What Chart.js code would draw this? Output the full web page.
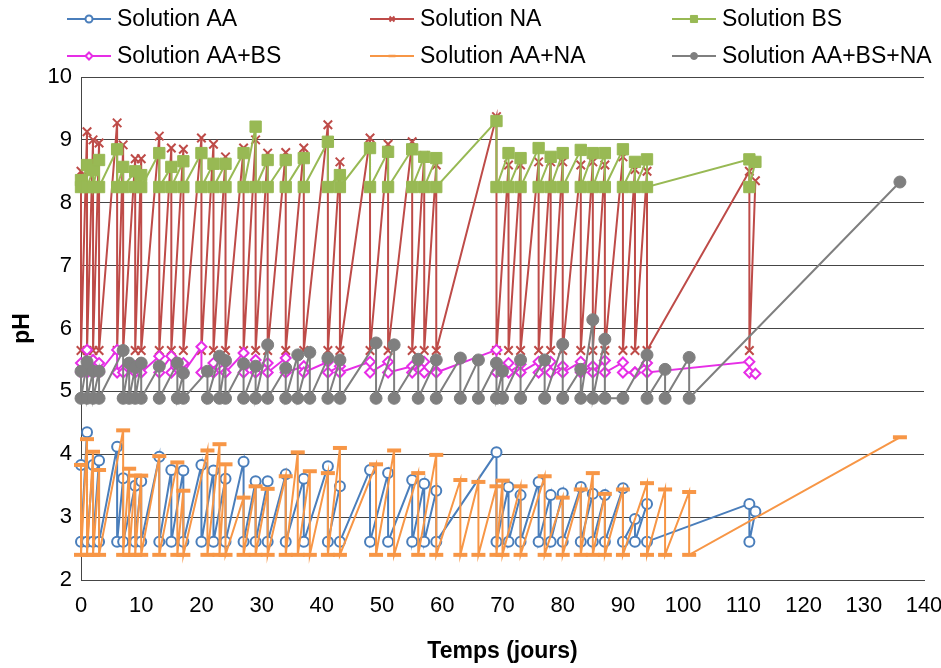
<!DOCTYPE html>
<html>
<head>
<meta charset="utf-8">
<script src="https://cdn.jsdelivr.net/npm/chart.js@4/dist/chart.umd.min.js"></script>
<style>
  html, body { margin: 0; padding: 0; background: #fff; }
  #wrap { width: 941px; height: 668px; position: relative; }
</style>
</head>
<body>
<div id="wrap"><canvas id="phChart"></canvas></div>
<script>
// measurement days (AA, NA, BS, AA+BS share them; AA+NA and AA+BS+NA share the other set)
const daysA = [0, 1, 2, 3, 6, 7, 9, 10, 13, 15, 17, 20, 22, 24, 27, 29, 31, 34, 37, 41, 43, 48, 51, 55, 57, 59, 69, 71, 73, 76, 78, 80, 83, 85, 87, 90, 92, 94, 111, 112];
const daysB = [0, 1, 2, 3, 7, 8, 9, 10, 13, 16, 17, 21, 23, 24, 27, 29, 31, 34, 36, 38, 41, 43, 49, 52, 56, 59, 63, 66, 69, 70, 73, 77, 80, 83, 85, 87, 90, 94, 97, 101, 136];

// pH before correction (peaks) and after correction (base)
const peakAA = [3.83, 4.35, 3.83, 3.90, 4.12, 3.62, 3.50, 3.57, 3.96, 3.75, 3.74, 3.83, 3.74, 3.61, 3.88, 3.57, 3.57, 3.68, 3.61, 3.81, 3.49, 3.75, 3.70, 3.59, 3.53, 3.42, 4.03, 3.48, 3.35, 3.56, 3.35, 3.38, 3.48, 3.37, 3.35, 3.46, 2.97, 3.21, 3.21, 3.09];
const peakNA = [8.50, 9.13, 9.00, 8.95, 9.27, 8.92, 8.70, 8.70, 9.06, 8.87, 8.85, 9.03, 8.93, 8.73, 8.87, 9.00, 8.79, 8.80, 8.87, 9.24, 8.65, 9.03, 8.93, 8.97, 8.75, 8.60, 9.37, 8.60, 8.60, 8.65, 8.65, 8.65, 8.60, 8.65, 8.60, 8.73, 8.53, 8.50, 8.50, 8.35];
const peakBS = [8.36, 8.60, 8.52, 8.68, 8.85, 8.57, 8.50, 8.44, 8.79, 8.57, 8.66, 8.79, 8.62, 8.62, 8.79, 9.21, 8.68, 8.68, 8.71, 8.97, 8.44, 8.87, 8.81, 8.85, 8.73, 8.71, 9.30, 8.79, 8.71, 8.87, 8.73, 8.79, 8.84, 8.79, 8.79, 8.85, 8.65, 8.69, 8.69, 8.65];
const peakAABS = [5.45, 5.66, 5.50, 5.45, 5.66, 5.35, 5.40, 5.40, 5.56, 5.56, 5.45, 5.71, 5.45, 5.45, 5.61, 5.50, 5.45, 5.53, 5.40, 5.47, 5.40, 5.47, 5.47, 5.40, 5.47, 5.32, 5.66, 5.45, 5.43, 5.47, 5.47, 5.40, 5.47, 5.40, 5.49, 5.46, 5.30, 5.45, 5.47, 5.28];
const peakAANA = [3.83, 4.24, 4.04, 3.75, 4.38, 3.77, 3.66, 3.66, 3.97, 3.87, 3.42, 4.06, 4.16, 3.84, 3.31, 3.49, 3.45, 3.65, 4.03, 3.73, 3.70, 4.10, 3.84, 4.06, 3.70, 3.99, 3.59, 3.56, 3.49, 3.58, 3.49, 3.65, 3.31, 3.44, 3.70, 3.37, 3.44, 3.54, 3.44, 3.40, 4.27];
const peakAABSNA = [5.32, 5.47, 5.32, 5.32, 5.65, 5.45, 5.38, 5.45, 5.40, 5.45, 5.29, 5.32, 5.56, 5.49, 5.44, 5.40, 5.74, 5.37, 5.58, 5.62, 5.53, 5.50, 5.77, 5.74, 5.51, 5.50, 5.53, 5.50, 5.45, 5.32, 5.50, 5.50, 5.75, 5.35, 6.14, 5.83, null, 5.58, 5.35, 5.54, 8.33];

const baseAA = 2.61, baseNA = 5.65, baseBS = 8.25, baseAABS = 5.30, baseAANA = 2.40, baseAABSNA = 4.89;

const xTicks = [0, 10, 20, 30, 40, 50, 60, 70, 80, 90, 100, 110, 120, 130, 140];
const yTicks = [2, 3, 4, 5, 6, 7, 8, 9, 10];

// peak then corrected value on each day; the last day has no correction
function sawtooth(days, peaks, base) {
  const pts = [];
  days.forEach((d, i) => {
    if (peaks[i] !== null) pts.push({ x: d, y: peaks[i] });
    if (i < days.length - 1) pts.push({ x: d, y: base });
  });
  return pts;
}

const FONT = '"Liberation Sans", Arial, sans-serif';
const AXIS = '#454545';

const series = [
  { label: 'Solution AA', data: sawtooth(daysA, peakAA, baseAA), color: '#4A7EBB', style: 'circle', r: 5, fill: '#fff', bw: 2 },
  { label: 'Solution NA', data: sawtooth(daysA, peakNA, baseNA), color: '#BE4B48', style: 'crossRot', r: 6, fill: '#BE4B48', bw: 2 },
  { label: 'Solution BS', data: sawtooth(daysA, peakBS, baseBS), color: '#98B954', style: 'rect', r: 8, fill: '#98B954', bw: 1 },
  { label: 'Solution AA+BS', data: sawtooth(daysA, peakAABS, baseAABS), color: '#E62EE6', style: 'rectRot', r: 5, fill: '#fff', bw: 2 },
  { label: 'Solution AA+NA', data: sawtooth(daysB, peakAANA, baseAANA), color: '#F79646', style: 'line', r: 7, fill: '#F79646', bw: 4 },
  { label: 'Solution AA+BS+NA', data: sawtooth(daysB, peakAABSNA, baseAABSNA), color: '#7F7F7F', style: 'circle', r: 6, fill: '#7F7F7F', bw: 1 }
];

const datasets = series.map((s, i) => ({
  label: s.label,
  data: s.data,
  borderColor: s.color,
  backgroundColor: s.fill,
  borderWidth: 2,
  pointStyle: s.style,
  pointRadius: s.r,
  pointBorderWidth: s.bw,
  pointBorderColor: s.color,
  pointBackgroundColor: s.fill,
  tension: 0,
  clip: false,
  order: series.length - i
}));

const LEGEND_COLS = [67, 370, 672];
const LEGEND_ROWS = [19, 56];

const gridLegend = {
  id: 'gridLegend',
  afterDraw(chart) {
    const ctx = chart.ctx;
    ctx.save();
    ctx.font = '23px ' + FONT;
    ctx.textBaseline = 'middle';
    chart.data.datasets.forEach((ds, i) => {
      const x0 = LEGEND_COLS[i % 3];
      const y = LEGEND_ROWS[Math.floor(i / 3)];
      ctx.strokeStyle = ds.borderColor;
      ctx.lineWidth = 2;
      ctx.beginPath();
      ctx.moveTo(x0, y);
      ctx.lineTo(x0 + 44, y);
      ctx.stroke();
      ctx.fillStyle = ds.pointBackgroundColor;
      ctx.lineWidth = Math.min(ds.pointBorderWidth, 2.5);
      if (Chart.helpers && Chart.helpers.drawPoint) {
        Chart.helpers.drawPoint(ctx, { pointStyle: ds.pointStyle, radius: ds.pointStyle === 'rect' ? 5 : 3.5, borderWidth: ctx.lineWidth, rotation: 0 }, x0 + 22, y);
      }
      ctx.fillStyle = '#000';
      ctx.fillText(ds.label, x0 + 50, y + 1);
    });
    ctx.restore();
  }
};

new Chart(document.getElementById('phChart'), {
  type: 'line',
  data: { datasets },
  options: {
    responsive: true,
    maintainAspectRatio: false,
    animation: false,
    layout: { padding: { top: 77, right: 17, left: 0, bottom: 0 } },
    plugins: { legend: { display: false }, tooltip: { enabled: false } },
    scales: {
      x: {
        type: 'linear',
        min: 0,
        max: 140,
        afterBuildTicks: s => { s.ticks = xTicks.map(v => ({ value: v })); },
        afterFit: s => { s.height = 88; s.paddingLeft = 0; s.paddingRight = 0; },
        grid: { display: false, drawTicks: false },
        border: { display: true, color: AXIS, width: 1 },
        ticks: { padding: 13, color: '#000', font: { family: FONT, size: 22 }, maxRotation: 0 },
        title: { display: true, text: 'Temps (jours)', color: '#000', font: { family: FONT, size: 23, weight: 'bold' }, padding: { top: 0, bottom: 3 } }
      },
      y: {
        type: 'linear',
        min: 2,
        max: 10,
        afterBuildTicks: s => { s.ticks = yTicks.map(v => ({ value: v })); },
        afterFit: s => { s.width = 81; },
        grid: { color: AXIS, lineWidth: 1, drawTicks: false },
        border: { display: true, color: AXIS, width: 1 },
        ticks: { padding: 9, color: '#000', font: { family: FONT, size: 22 } },
        title: { display: true, text: 'pH', color: '#000', font: { family: FONT, size: 23, weight: 'bold' }, padding: { top: 9, bottom: 0 } }
      }
    }
  },
  plugins: [gridLegend]
});
</script>
</body>
</html>
